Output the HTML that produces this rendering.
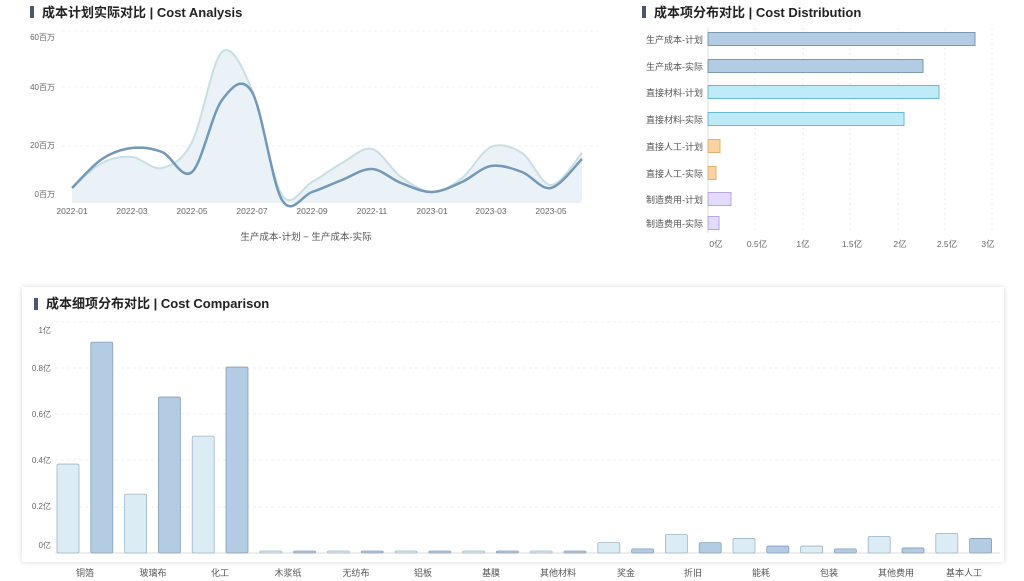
<!DOCTYPE html>
<html><head><meta charset="utf-8"><style>
body{margin:0;width:1024px;height:581px;background:#fff;overflow:hidden;font-family:"Liberation Sans","Noto Sans CJK SC",sans-serif;}
svg{position:absolute;left:0;top:0}
</style></head><body>
<svg width="1024" height="581" viewBox="0 0 1024 581" xmlns="http://www.w3.org/2000/svg" font-family="Liberation Sans, Noto Sans CJK SC, sans-serif">
<defs><filter id="sh" x="-5%" y="-10%" width="110%" height="120%"><feDropShadow dx="0" dy="0" stdDeviation="3" flood-color="#000" flood-opacity="0.15"/></filter></defs>
<rect x="30" y="6" width="4" height="12" fill="#4a5a6e"/>
<text x="42" y="17" font-size="13" font-weight="bold" fill="#222">成本计划实际对比  |  Cost Analysis</text>
<rect x="642" y="6" width="4" height="12" fill="#4a5a6e"/>
<text x="654" y="17" font-size="13" font-weight="bold" fill="#222">成本项分布对比  |  Cost Distribution</text>

<g stroke="#eef1f4" stroke-dasharray="3,3">
<line x1="62" y1="31" x2="600" y2="31"/><line x1="62" y1="87" x2="600" y2="87"/><line x1="62" y1="146" x2="600" y2="146"/>
</g>
<g font-size="8" fill="#666" text-anchor="end">
<text x="55" y="40">60百万</text><text x="55" y="90">40百万</text><text x="55" y="148">20百万</text><text x="55" y="197">0百万</text>
</g>
<g font-size="8.5" fill="#666" text-anchor="middle">
<text x="72" y="214">2022-01</text><text x="132" y="214">2022-03</text><text x="192" y="214">2022-05</text><text x="252" y="214">2022-07</text><text x="312" y="214">2022-09</text><text x="372" y="214">2022-11</text><text x="432" y="214">2023-01</text><text x="491" y="214">2023-03</text><text x="551" y="214">2023-05</text>
</g>
<text x="306" y="240" font-size="9.5" fill="#555" text-anchor="middle">生产成本-计划  −  生产成本-实际</text>
<g id="lines"></g>

<g stroke="#e6e9ee" stroke-dasharray="2,3">
<line x1="755" y1="28" x2="755" y2="233"/><line x1="803" y1="28" x2="803" y2="233"/><line x1="850" y1="28" x2="850" y2="233"/><line x1="898" y1="28" x2="898" y2="233"/><line x1="945" y1="28" x2="945" y2="233"/><line x1="992" y1="28" x2="992" y2="233"/>
</g>
<line x1="708" y1="28" x2="708" y2="233" stroke="#ddd"/>
<g font-size="9" fill="#555" text-anchor="end">
<text x="703" y="43">生产成本-计划</text><text x="703" y="70">生产成本-实际</text><text x="703" y="96">直接材料-计划</text><text x="703" y="123">直接材料-实际</text><text x="703" y="150">直接人工-计划</text><text x="703" y="177">直接人工-实际</text><text x="703" y="203">制造费用-计划</text><text x="703" y="227">制造费用-实际</text>
</g>
<rect x="708" y="32.5" width="267" height="13" fill="#b3cbe3" stroke="#7d98b3"/>
<rect x="708" y="59.5" width="215" height="13" fill="#b3cbe3" stroke="#7d98b3"/>
<rect x="708" y="85.5" width="231" height="13" fill="#bfeaf8" stroke="#6cb9d6"/>
<rect x="708" y="112.5" width="196" height="13" fill="#bfeaf8" stroke="#6cb9d6"/>
<rect x="708" y="139.5" width="12" height="13" fill="#fbd3a0" stroke="#e0b070"/>
<rect x="708" y="166.5" width="8" height="13" fill="#fbd3a0" stroke="#e0b070"/>
<rect x="708" y="192.5" width="23" height="13" fill="#e4dafb" stroke="#b9a6e0"/>
<rect x="708" y="216.5" width="11" height="13" fill="#e4dafb" stroke="#b9a6e0"/>
<g font-size="8.5" fill="#666" text-anchor="middle">
<text x="716" y="247">0亿</text><text x="757" y="247">0.5亿</text><text x="803" y="247">1亿</text><text x="852" y="247">1.5亿</text><text x="900" y="247">2亿</text><text x="947" y="247">2.5亿</text><text x="988" y="247">3亿</text>
</g>

<rect x="22" y="287" width="982" height="275" fill="#fff" filter="url(#sh)"/>
<rect x="34" y="298" width="4" height="12" fill="#4a5a6e"/>
<text x="46" y="308" font-size="13" font-weight="bold" fill="#222">成本细项分布对比  |  Cost Comparison</text>
<g stroke="#eceff3" stroke-dasharray="3,3">
<line x1="55" y1="322" x2="1000" y2="322"/><line x1="55" y1="368" x2="1000" y2="368"/><line x1="55" y1="414" x2="1000" y2="414"/><line x1="55" y1="460" x2="1000" y2="460"/><line x1="55" y1="507" x2="1000" y2="507"/>
</g>
<line x1="55" y1="553" x2="1000" y2="553" stroke="#ddd"/>
<g font-size="8" fill="#666" text-anchor="end">
<text x="51" y="333">1亿</text><text x="51" y="371">0.8亿</text><text x="51" y="417">0.6亿</text><text x="51" y="463">0.4亿</text><text x="51" y="509">0.2亿</text><text x="51" y="548">0亿</text>
</g>
<g id="bars"></g>
<g font-size="9" fill="#555" text-anchor="middle">
<text x="85" y="576">铜箔</text><text x="153" y="576">玻璃布</text><text x="220" y="576">化工</text><text x="288" y="576">木浆纸</text><text x="356" y="576">无纺布</text><text x="423" y="576">铝板</text><text x="491" y="576">基膜</text><text x="558" y="576">其他材料</text><text x="626" y="576">奖金</text><text x="693" y="576">折旧</text><text x="761" y="576">能耗</text><text x="829" y="576">包装</text><text x="896" y="576">其他费用</text><text x="964" y="576">基本人工</text>
</g>
</svg>
<script>
var xs=[72,102,132,162,192,222,252,282,312,342,372,401,432,462,491,522,551,582];
var dk=[188,159,148,152,172,100,92,200,192,180,169,183,192,182,166,172,188,159];
var lt=[188,163,157,168,142,52,90,195,182,163,149,177,192,178,147,153,185,153];
function path(y){var p=[];for(var i=0;i<xs.length;i++)p.push([xs[i],y[i]]);var d="M"+p[0][0]+","+p[0][1];
for(var i=0;i<p.length-1;i++){var p0=p[Math.max(0,i-1)],p1=p[i],p2=p[i+1],p3=p[Math.min(p.length-1,i+2)];
var c1x=p1[0]+(p2[0]-p0[0])/6,c1y=p1[1]+(p2[1]-p0[1])/6,c2x=p2[0]-(p3[0]-p1[0])/6,c2y=p2[1]-(p3[1]-p1[1])/6;
d+=" C"+c1x+","+c1y+" "+c2x+","+c2y+" "+p2[0]+","+p2[1];}return d;}
var ns="http://www.w3.org/2000/svg",g=document.getElementById("lines");
function mk(t,a){var e=document.createElementNS(ns,t);for(var k in a)e.setAttribute(k,a[k]);return e;}
var pl=path(lt);
g.appendChild(mk("path",{d:pl+" L582,203 L72,203 Z",fill:"#eaf2f7"}));
g.appendChild(mk("path",{d:pl,fill:"none",stroke:"#c8dfe4","stroke-width":2}));
g.appendChild(mk("path",{d:path(dk),fill:"none",stroke:"#7398b8","stroke-width":2.5}));
var v=[0.385,0.913,0.255,0.675,0.506,0.805,.005,.005,.005,.005,.005,.005,.005,.005,.005,.005,.045,.018,.08,.045,.063,.03,.03,.018,.072,.022,.085,.063];
var b=document.getElementById("bars");
for(var i=0;i<28;i++){var x=57+33.8*i,h=Math.max(2,v[i]*231),light=i%2==0;
b.appendChild(mk("rect",{x:x,y:553-h,width:22,height:h,rx:1.5,fill:light?"#dbecf5":"#b3cbe3",stroke:light?"#9fb5c4":"#869fb8","stroke-width":0.8}));}
</script>
</body></html>
